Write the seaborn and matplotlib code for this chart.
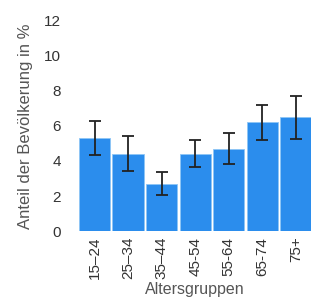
import numpy as np
import pandas as pd
import seaborn as sns
from matplotlib import pyplot as plt

groups = ["15\u201324", "25\u201334", "35\u201344", "45-54", "55-64", "65-74", "75+"]
anteil = [5.3, 4.4, 2.7, 4.4, 4.7, 6.2, 6.5]
ci_low = [4.35, 3.45, 2.05, 3.65, 3.8, 5.2, 5.25]
ci_high = [6.25, 5.45, 3.35, 5.2, 5.6, 7.2, 7.7]

df = pd.DataFrame({"gruppe": groups, "anteil": anteil})

sns.set_style("white")
plt.rcParams["font.family"] = ["Liberation Sans", "DejaVu Sans"]

fig = plt.figure(figsize=(3.11, 2.99), dpi=100)
ax = fig.add_axes([0.25, 0.227, 0.755, 0.704])

sns.barplot(data=df, x="gruppe", y="anteil", color="#2b8ded", saturation=1,
            width=0.93, edgecolor="#8ec5f5", linewidth=0.6, ax=ax)

# error bars
yerr = [np.array(anteil) - np.array(ci_low), np.array(ci_high) - np.array(anteil)]
ax.errorbar(np.arange(len(groups)), anteil, yerr=yerr, fmt="none",
            ecolor="#222222", elinewidth=1.3, capsize=4, capthick=1.3)

ax.set_xlim(-0.5, 6.5)
ax.set_ylim(0, 12)
ax.set_yticks(range(0, 13, 2))
sns.despine(ax=ax, left=True, bottom=True)
ax.tick_params(axis="both", length=0, labelsize=11, colors="#333333")
ax.tick_params(axis="y", pad=12)
ax.tick_params(axis="x", pad=4)
plt.setp(ax.get_xticklabels(), rotation=90)
ax.set_xlabel("Altersgruppen", fontsize=11.5, color="#555555", labelpad=2)
ax.set_ylabel("Anteil der Bevölkerung in %", fontsize=12, color="#555555", labelpad=8)

plt.savefig("out.png", dpi=100)
